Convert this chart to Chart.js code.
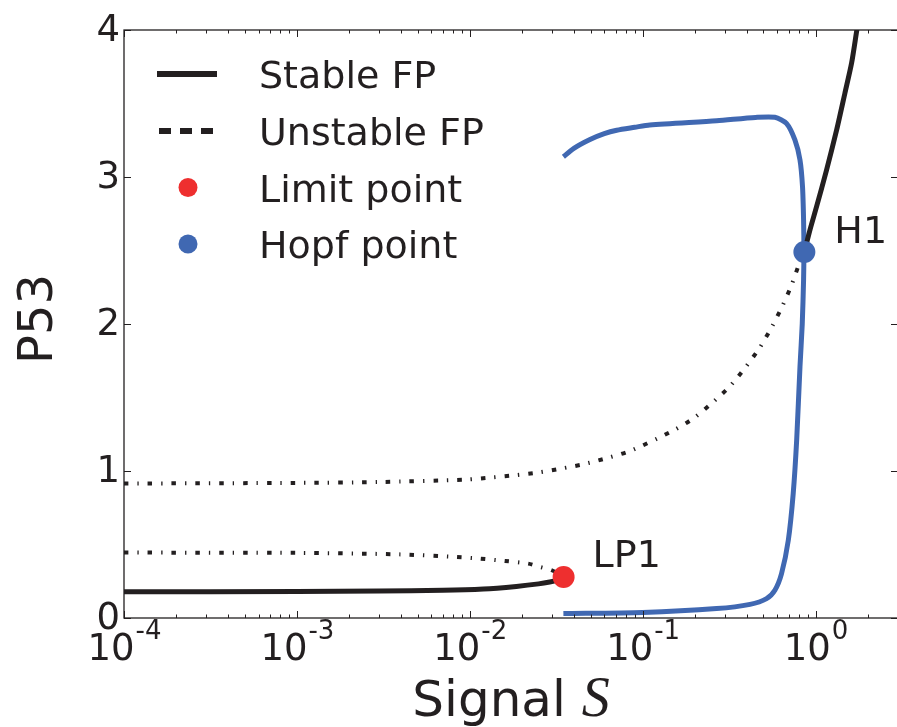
<!DOCTYPE html>
<html>
<head>
<meta charset="utf-8">
<script src="https://cdn.jsdelivr.net/npm/chart.js@4.4.1/dist/chart.umd.min.js"></script>
<style>
  html, body { margin: 0; padding: 0; background: #fff; overflow: hidden; }
  #wrap { position: absolute; left: 0; top: 0; width: 910px; height: 727px; }
</style>
</head>
<body>
<div id="wrap"><canvas id="chart" width="910" height="727"></canvas></div>
<script>
// signal S (log x) and P53 (y)
const stableLowS = [1e-4, 1e-3, 0.003, 0.007, 0.012, 0.0186, 0.025, 0.029, 0.032, 0.0349];
const stableLowP = [0.178, 0.18, 0.184, 0.188, 0.197, 0.215, 0.232, 0.245, 0.258, 0.279];

const unstableLowS = [1e-4, 1e-3, 0.0039, 0.0084, 0.0115, 0.016, 0.0218, 0.0255, 0.0298, 0.0349];
const unstableLowP = [0.445, 0.443, 0.433, 0.415, 0.404, 0.388, 0.37, 0.347, 0.325, 0.279];

const unstableUpS = [1e-4, 1e-3, 0.003, 0.0096, 0.0134, 0.0182, 0.025, 0.034, 0.0454, 0.0632, 0.0863,
  0.152, 0.2, 0.256, 0.32, 0.39, 0.473, 0.557, 0.642, 0.727, 0.805, 0.862];
const unstableUpP = [0.915, 0.919, 0.925, 0.942, 0.956, 0.971, 0.99, 1.017, 1.046, 1.09, 1.14,
  1.278, 1.364, 1.47, 1.577, 1.70, 1.834, 1.977, 2.12, 2.265, 2.41, 2.49];

const stableUpS = [0.862, 0.929, 1.014, 1.159, 1.325, 1.479, 1.618, 1.729, 1.78];
const stableUpP = [2.49, 2.64, 2.798, 3.048, 3.32, 3.57, 3.777, 3.99, 4.08];

const cycleS = [0.0348, 0.1, 0.268, 0.418, 0.521, 0.582, 0.636, 0.696, 0.743, 0.778, 0.813, 0.838,
  0.853, 0.857, 0.853, 0.841, 0.813, 0.76, 0.679, 0.582, 0.45, 0.268, 0.11, 0.09, 0.0708, 0.06,
  0.0496, 0.04, 0.0348];
const cycleP = [0.03, 0.037, 0.064, 0.093, 0.132, 0.189, 0.302, 0.529, 0.847, 1.21, 1.709, 2.0,
  2.3, 2.5, 2.707, 2.934, 3.116, 3.252, 3.365, 3.406, 3.405, 3.383, 3.354, 3.338, 3.318, 3.295,
  3.255, 3.195, 3.138];

const limitS = [0.0349];
const limitP = [0.279];
const hopfS = [0.862];
const hopfP = [2.49];

const xTicks = [1e-4, 1e-3, 1e-2, 1e-1, 1];
const xTickExp = ['-4', '-3', '-2', '-1', '0'];
const yTicks = [0, 1, 2, 3, 4];
const legendLabels = ['Stable FP', 'Unstable FP', 'Limit point', 'Hopf point'];
const pointNames = ['LP1', 'H1'];

const ink = '#231f20';
const red = '#ee2f2f';
const blue = '#4068b2';
const FONT = '"DejaVu Sans", sans-serif';
const dashDot = [4.5, 9, 1.3, 9];

function pts(xs, ys) {
  return xs.map((x, i) => ({ x: x, y: ys[i] }));
}

function lineSet(xs, ys, color, dash, order, width) {
  return {
    data: pts(xs, ys),
    showLine: true,
    borderColor: color,
    borderWidth: width,
    borderDash: dash,
    borderCapStyle: 'butt',
    pointRadius: 0,
    tension: 0.25,
    clip: 0,
    order: order
  };
}

function dotSet(xs, ys, color) {
  return {
    data: pts(xs, ys),
    showLine: false,
    pointRadius: 11,
    pointBackgroundColor: color,
    pointBorderWidth: 0,
    clip: false,
    order: 0
  };
}

const decor = {
  id: 'decor',
  afterDraw(chart) {
    const ctx = chart.ctx;
    const xs = chart.scales.x, ys = chart.scales.y;
    const a = chart.chartArea;
    ctx.save();
    ctx.strokeStyle = ink;
    ctx.fillStyle = ink;
    ctx.lineWidth = 1.3;
    ctx.setLineDash([]);
    ctx.strokeRect(a.left, a.top, a.right - a.left, a.bottom - a.top);

    // inward ticks on all four sides
    ctx.lineWidth = 1;
    ctx.beginPath();
    xTicks.forEach(v => {
      const px = Math.round(xs.getPixelForValue(v)) + 0.5;
      ctx.moveTo(px, a.bottom); ctx.lineTo(px, a.bottom - 7);
      ctx.moveTo(px, a.top); ctx.lineTo(px, a.top + 7);
    });
    for (let k = -4; k <= 0; k++) {
      for (let m = 2; m <= 9; m++) {
        const v = m * Math.pow(10, k);
        if (v > xs.max) continue;
        const px = Math.round(xs.getPixelForValue(v)) + 0.5;
        ctx.moveTo(px, a.bottom); ctx.lineTo(px, a.bottom - 3.5);
        ctx.moveTo(px, a.top); ctx.lineTo(px, a.top + 3.5);
      }
    }
    yTicks.forEach(v => {
      const py = Math.round(ys.getPixelForValue(v)) + 0.5;
      ctx.moveTo(a.left, py); ctx.lineTo(a.left + 7, py);
      ctx.moveTo(a.right, py); ctx.lineTo(a.right - 7, py);
    });
    ctx.stroke();

    // y tick labels
    ctx.font = '37px ' + FONT;
    ctx.textAlign = 'right';
    ctx.textBaseline = 'alphabetic';
    yTicks.forEach(v => {
      ctx.fillText(String(v), a.left - 4, ys.getPixelForValue(v) + 10.5);
    });

    // x tick labels 10^k
    ctx.textAlign = 'left';
    xTicks.forEach((v, i) => {
      ctx.font = '37px ' + FONT;
      const wb = ctx.measureText('10').width;
      ctx.font = '26px ' + FONT;
      const we = ctx.measureText(xTickExp[i]).width;
      const x0 = xs.getPixelForValue(v) - (wb + we) / 2;
      ctx.font = '37px ' + FONT;
      ctx.fillText('10', x0, a.bottom + 42);
      ctx.font = '26px ' + FONT;
      ctx.fillText(xTickExp[i], x0 + wb + 1, a.bottom + 21);
    });

    // axis titles
    ctx.font = '50px ' + FONT;
    const t1 = 'Signal ';
    const w1 = ctx.measureText(t1).width;
    ctx.font = 'italic 56px "Liberation Serif", serif';
    const w2 = ctx.measureText('S').width;
    const tx = (a.left + a.right) / 2 - (w1 + w2) / 2;
    ctx.font = '50px ' + FONT;
    ctx.fillText(t1, tx, 716);
    ctx.font = 'italic 56px "Liberation Serif", serif';
    ctx.fillText('S', tx + w1, 716);

    ctx.save();
    ctx.translate(52, (a.top + a.bottom) / 2 - 5);
    ctx.rotate(-Math.PI / 2);
    ctx.font = '48px ' + FONT;
    ctx.textAlign = 'center';
    ctx.fillText('P53', 0, 0);
    ctx.restore();

    // legend
    const rowY = [74, 131, 187.5, 244];
    ctx.font = '38px ' + FONT;
    ctx.textAlign = 'left';
    legendLabels.forEach((lab, i) => {
      const y = rowY[i];
      if (i < 2) {
        ctx.beginPath();
        ctx.lineWidth = 6;
        ctx.lineCap = 'butt';
        ctx.setLineDash(i === 0 ? [] : [12, 9]);
        ctx.moveTo(i === 0 ? 157 : 159, y);
        ctx.lineTo(217, y);
        ctx.stroke();
        ctx.setLineDash([]);
      } else {
        ctx.beginPath();
        ctx.fillStyle = i === 2 ? red : blue;
        ctx.arc(188, y, 9.5, 0, Math.PI * 2);
        ctx.fill();
        ctx.fillStyle = ink;
      }
      ctx.fillText(lab, 259, y + 14);
    });

    // point names
    ctx.font = '38px ' + FONT;
    const lpx = xs.getPixelForValue(limitS[0]), lpy = ys.getPixelForValue(limitP[0]);
    ctx.fillText(pointNames[0], lpx + 29, lpy - 10);
    const hx = xs.getPixelForValue(hopfS[0]), hy = ys.getPixelForValue(hopfP[0]);
    ctx.fillText(pointNames[1], hx + 30, hy - 9);
    ctx.restore();
  }
};

new Chart(document.getElementById('chart'), {
  type: 'scatter',
  data: {
    datasets: [
      lineSet(cycleS, cycleP, blue, [], 3, 5),
      lineSet(stableLowS, stableLowP, ink, [], 2, 5),
      lineSet(stableUpS, stableUpP, ink, [], 2, 5),
      lineSet(unstableLowS, unstableLowP, ink, dashDot, 2, 4),
      lineSet(unstableUpS, unstableUpP, ink, dashDot, 2, 4),
      dotSet(limitS, limitP, red),
      dotSet(hopfS, hopfP, blue)
    ]
  },
  options: {
    responsive: false,
    animation: false,
    layout: { padding: { left: 124, top: 30, right: 12, bottom: 109 } },
    plugins: { legend: { display: false }, tooltip: { enabled: false } },
    scales: {
      x: { type: 'logarithmic', min: 1e-4, max: 3, display: false },
      y: { type: 'linear', min: 0, max: 4, display: false }
    }
  },
  plugins: [decor]
});
</script>
</body>
</html>
